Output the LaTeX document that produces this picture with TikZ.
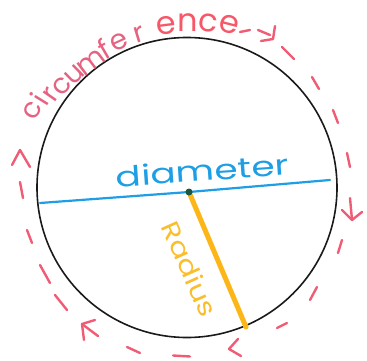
\documentclass[tikz,border=0pt]{standalone}
\usepackage{fontspec}
\setmainfont{Poppins}
\definecolor{circblack}{HTML}{1A1A1A}
\definecolor{diablue}{RGB}{30,158,228}
\definecolor{radorange}{RGB}{252,182,24}
\definecolor{radtext}{RGB}{250,190,45}
\definecolor{circpink}{RGB}{230,98,128}
\definecolor{encered}{RGB}{247,88,105}
\definecolor{dashpink}{RGB}{240,92,118}
\definecolor{dotgreen}{RGB}{28,86,62}
\tikzset{
  pinkstroke/.style={draw=dashpink, line width=2.4pt, line cap=round, line join=round},
  letter/.style={anchor=base, inner sep=0pt}
}
\begin{document}
\begin{tikzpicture}[x=1pt,y=1pt]
\useasboundingbox (0,0) rectangle (367,360);
% centres
\coordinate (C) at (187,172.5);
\coordinate (O) at (187,170);
% circle
\draw[line width=1.6pt, circblack] (C) circle (150);
% diameter
\coordinate (dL) at (40,157);
\coordinate (dM) at (189,168);
\coordinate (dR) at (330,180);
\draw[diablue, line width=2.2pt, line cap=round] (dL) -- (dM) -- (dR);
% radius
\coordinate (rE) at (246,33);
\draw[radorange, line width=5pt, line cap=round] (dM) -- (rE);
\fill[dotgreen] (dM) circle (3.5);
% labels
\node[text=diablue, font=\fontsize{28}{28}\selectfont, anchor=base, rotate=4, xscale=1.34, inner sep=0pt] (diam) at (203,179) {diameter};
\node[text=radtext, font=\fontsize{25}{25}\selectfont, rotate=-66, xscale=1.2, inner sep=0pt] (rad) at (190,91) {Radius};
% circumference letters
\foreach \ch/\ang/\rad/\fs/\col [count=\i] in {
  c/152.7/166/28/circpink, i/148.2/163/28/circpink, r/145.0/158/28/circpink,
  c/140.4/155/28/circpink, u/134.2/153/28/circpink, m/127.0/152/28/circpink,
  f/120.4/153/28/circpink, e/114.6/155/28/circpink, r/107.0/155/28/circpink,
  e/97.2/157/32/encered, n/89.8/158/32/encered, c/82.9/160/32/encered, e/75.6/162/32/encered}
  \node[letter, text=\col, font=\fontsize{\fs}{\fs}\selectfont, rotate=\ang-90] (L\i) at ([shift={(\ang:\rad)}]O) {\ch};
% dashes
\draw[pinkstroke] (282,313) -- (294,301);
\draw[pinkstroke] (312,283) -- (319,271);
\draw[pinkstroke] (333,250) -- (338,237);
\draw[pinkstroke] (347,207) -- (350,193);
\draw[pinkstroke] (342,120) -- (338,107);
\draw[pinkstroke] (317,73) -- (310,60);
\draw[pinkstroke] (287,37) -- (277,32);
\draw[pinkstroke] (190,3.5) -- (173,4.5);
\draw[pinkstroke] (140,7) -- (127,13);
\draw[pinkstroke] (67,50) -- (55,65);
\draw[pinkstroke] (50,77) -- (40,95);
\draw[pinkstroke] (32,117) -- (27,130);
\draw[pinkstroke] (23,162) -- (20,178);
\draw[pinkstroke] (240,328) -- (250,330);
\draw[pinkstroke] (258,330) -- (270,325);
% arrowheads
\draw[pinkstroke] (275,334) -- (273,321) -- (261,319);
\draw[pinkstroke] (350,162) -- (352,140);
\draw[pinkstroke] (342,150) -- (352,140) -- (362,148);
\draw[pinkstroke] (238,21) -- (229,11) -- (241,4);
\draw[pinkstroke] (95,40) -- (82,36) -- (84,20);
\draw[pinkstroke] (82,36) -- (98,24);
\draw[pinkstroke] (12,195) -- (20,210) -- (30,193);
\end{tikzpicture}
\end{document}
